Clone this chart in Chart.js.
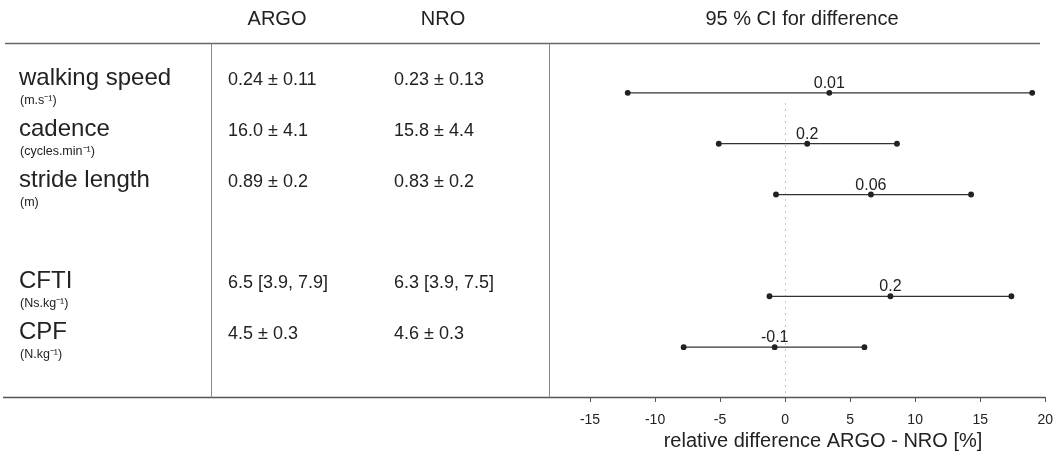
<!DOCTYPE html>
<html>
<head>
<meta charset="utf-8">
<script src="https://cdn.jsdelivr.net/npm/chart.js@4"></script>
<style>
  body { margin: 0; background: #fff; }
  #wrap { width: 1063px; height: 453px; }
</style>
</head>
<body>
<div id="wrap"><canvas id="grafico" width="1063" height="453"></canvas></div>
<script>
// datos de la tabla
const rowLabels = ['walking speed', 'cadence', 'stride length', 'CFTI', 'CPF'];
const rowUnits = ['(m.s⁻¹)', '(cycles.min⁻¹)', '(m)', '(Ns.kg⁻¹)', '(N.kg⁻¹)'];
const argoValues = ['0.24 ± 0.11', '16.0 ± 4.1', '0.89 ± 0.2', '6.5 [3.9, 7.9]', '4.5 ± 0.3'];
const nroValues = ['0.23 ± 0.13', '15.8 ± 4.4', '0.83 ± 0.2', '6.3 [3.9, 7.5]', '4.6 ± 0.3'];
const rowSlots = [0, 1, 2, 4, 5];

// intervalos de confianza (diferencia relativa %)
const ciLow = [-12.1, -5.1, -0.7, -1.2, -7.8];
const meanDiff = [3.4, 1.7, 6.6, 8.1, -0.8];
const ciHigh = [19.0, 8.6, 14.3, 17.4, 6.1];
const diffLabels = ['0.01', '0.2', '0.06', '0.2', '-0.1'];
const xTicks = [-15, -10, -5, 0, 5, 10, 15, 20];

const fuente = '"Liberation Sans", Arial, sans-serif';
const tinta = '#222';

const datasets = rowLabels.map((label, i) => ({
  label,
  data: [
    { x: ciLow[i], y: rowSlots[i] },
    { x: meanDiff[i], y: rowSlots[i] },
    { x: ciHigh[i], y: rowSlots[i] },
  ],
  showLine: true,
  borderColor: '#333',
  borderWidth: 1.3,
  pointRadius: 2.3,
  pointBackgroundColor: tinta,
  pointBorderColor: tinta,
}));

const texto = (ctx, str, x, y, size, align = 'left', base = 'alphabetic') => {
  ctx.font = `${size}px ${fuente}`;
  ctx.textAlign = align;
  ctx.textBaseline = base;
  ctx.fillText(str, x, y);
};

const linea = (ctx, x1, y1, x2, y2, color, w) => {
  ctx.beginPath();
  ctx.strokeStyle = color;
  ctx.lineWidth = w;
  ctx.moveTo(x1, y1);
  ctx.lineTo(x2, y2);
  ctx.stroke();
};

const tablaPlugin = {
  id: 'tabla',
  beforeDatasetsDraw(chart) {
    const { ctx, chartArea, scales } = chart;
    const x0 = Math.round(scales.x.getPixelForValue(0)) + 0.5;
    ctx.save();
    ctx.setLineDash([2, 4]);
    linea(ctx, x0, 103, x0, chartArea.bottom, '#c4c4c4', 1);
    ctx.restore();
  },
  afterDraw(chart) {
    const { ctx, chartArea, scales } = chart;
    const top = chartArea.top + 0.5;
    const bottom = chartArea.bottom + 0.5;
    ctx.save();
    ctx.fillStyle = tinta;

    // encabezados
    texto(ctx, 'ARGO', 277, 19, 20, 'center', 'middle');
    texto(ctx, 'NRO', 443, 19, 20, 'center', 'middle');
    texto(ctx, '95 % CI for difference', 802, 19, 20, 'center', 'middle');

    // lineas de la tabla
    linea(ctx, 5, top, 1040, top, '#666', 1.5);
    linea(ctx, 3, bottom, chartArea.right, bottom, '#555', 1.5);
    linea(ctx, 211.5, top, 211.5, bottom, '#888', 1);
    linea(ctx, 549.5, top, 549.5, bottom, '#888', 1);

    // filas
    rowLabels.forEach((label, i) => {
      const y = scales.y.getPixelForValue(rowSlots[i]);
      texto(ctx, label, 19, y - 8, 24);
      texto(ctx, rowUnits[i], 20, y + 11, 12.5);
      texto(ctx, argoValues[i], 228, y - 8, 18);
      texto(ctx, nroValues[i], 394, y - 8, 18);
      texto(ctx, diffLabels[i], scales.x.getPixelForValue(meanDiff[i]), y - 5, 16, 'center');
    });

    // titulo del eje
    texto(ctx, 'relative difference ARGO - NRO [%]', 823, 441, 20, 'center', 'middle');
    ctx.restore();
  },
};

const config = {
  type: 'scatter',
  data: { datasets },
  plugins: [tablaPlugin],
  options: {
    responsive: false,
    animation: false,
    layout: { padding: { left: 551, right: 16, top: 43, bottom: 0 } },
    plugins: {
      legend: { display: false },
      tooltip: { enabled: false },
    },
    scales: {
      x: {
        type: 'linear',
        min: -18,
        max: 20,
        afterBuildTicks: (scale) => { scale.ticks = xTicks.map(v => ({ value: v })); },
        afterFit: (scale) => { scale.height = 56; },
        grid: { drawOnChartArea: false, drawTicks: true, tickLength: 5, color: '#555' },
        border: { display: false },
        ticks: { color: tinta, font: { family: fuente, size: 14 }, padding: 10, maxRotation: 0 },
      },
      y: {
        type: 'linear',
        reverse: true,
        min: -0.98,
        max: 5.98,
        display: false,
      },
    },
  },
};

new Chart(document.getElementById('grafico').getContext('2d'), config);
</script>
</body>
</html>
